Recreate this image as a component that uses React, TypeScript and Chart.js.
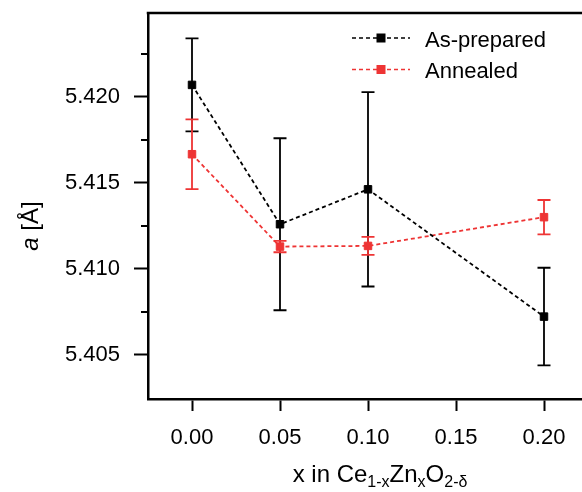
import React, { useEffect, useRef } from 'react';
import { Chart, registerables } from 'chart.js';

Chart.register(...registerables);

// ---- data ----
const xValues = [0, 0.05, 0.1, 0.2];
const asPrepared = [5.4207, 5.4126, 5.41463, 5.40723];
const asPreparedErr = [0.0027, 0.005, 0.00565, 0.00284];
const annealed = [5.41667, 5.4113, 5.41134, 5.41301];
const annealedErr = [0.00203, 0.00033, 0.00052, 0.001];
const xTicks = [0, 0.05, 0.1, 0.15, 0.2];
const yTicks = [5.405, 5.41, 5.415, 5.42];
const yMinorTicks = [5.4075, 5.4125, 5.4175, 5.4225];
const seriesNames = ['As-prepared', 'Annealed'];

const BLACK = '#000000';
const RED = 'rgb(238,52,52)';
const FONT = '"Liberation Sans", Arial, sans-serif';

const errorBarPlugin = {
  id: 'errorBars',
  beforeDatasetsDraw(chart: any) {
    const { ctx, scales } = chart;
    const xs = scales.x;
    const ys = scales.y;
    const sets = [
      { vals: asPrepared, errs: asPreparedErr, color: BLACK },
      { vals: annealed, errs: annealedErr, color: RED },
    ];
    ctx.save();
    sets.forEach((s) => {
      ctx.strokeStyle = s.color;
      ctx.lineWidth = 1.8;
      s.vals.forEach((v, i) => {
        const px = xs.getPixelForValue(xValues[i]);
        const yt = ys.getPixelForValue(v + s.errs[i]);
        const yb = ys.getPixelForValue(v - s.errs[i]);
        ctx.beginPath();
        ctx.moveTo(px, yt);
        ctx.lineTo(px, yb);
        ctx.moveTo(px - 6.5, yt);
        ctx.lineTo(px + 6.5, yt);
        ctx.moveTo(px - 6.5, yb);
        ctx.lineTo(px + 6.5, yb);
        ctx.stroke();
      });
    });
    ctx.restore();
  },
};

const decorPlugin = {
  id: 'decor',
  afterDraw(chart: any) {
    const { ctx, chartArea, scales } = chart;
    const { left, top, right, bottom } = chartArea;
    ctx.save();
    // frame top and right
    ctx.strokeStyle = BLACK;
    ctx.lineWidth = 2.5;
    ctx.beginPath();
    ctx.moveTo(left - 1.25, top);
    ctx.lineTo(right, top);
    ctx.lineTo(right, bottom);
    ctx.stroke();

    // minor y ticks
    ctx.lineWidth = 2;
    ctx.beginPath();
    yMinorTicks.forEach((v) => {
      const y = Math.round(scales.y.getPixelForValue(v));
      ctx.moveTo(left - 7, y);
      ctx.lineTo(left, y);
    });
    ctx.stroke();

    // legend
    const colors = [BLACK, RED];
    seriesNames.forEach((name, i) => {
      const ly = top + 25 + i * 31.5;
      const lx0 = left + 204;
      const lx1 = left + 262;
      ctx.strokeStyle = colors[i];
      ctx.lineWidth = 1.7;
      ctx.setLineDash([4, 3]);
      ctx.beginPath();
      ctx.moveTo(lx0, ly);
      ctx.lineTo(lx1, ly);
      ctx.stroke();
      ctx.setLineDash([]);
      ctx.fillStyle = colors[i];
      ctx.fillRect(left + 228.5, ly - 4.5, 9, 9);
      ctx.fillStyle = BLACK;
      ctx.font = `22px ${FONT}`;
      ctx.textAlign = 'left';
      ctx.textBaseline = 'alphabetic';
      ctx.fillText(name, left + 277, ly + 8.5);
    });

    // x title with subscripts
    const parts: [string, boolean][] = [
      ['x in Ce', false],
      ['1-x', true],
      ['Zn', false],
      ['x', true],
      ['O', false],
      ['2-δ', true],
    ];
    const mainFont = `24px ${FONT}`;
    const subFont = `16px ${FONT}`;
    let total = 0;
    parts.forEach(([t, sub]) => {
      ctx.font = sub ? subFont : mainFont;
      total += ctx.measureText(t).width;
    });
    let tx = 380 - total / 2;
    const baseY = bottom + 83;
    ctx.fillStyle = BLACK;
    ctx.textAlign = 'left';
    ctx.textBaseline = 'alphabetic';
    parts.forEach(([t, sub]) => {
      ctx.font = sub ? subFont : mainFont;
      ctx.fillText(t, tx, sub ? baseY + 5 : baseY);
      tx += ctx.measureText(t).width;
    });

    // y title: italic a [Å]
    ctx.save();
    ctx.translate(38, 226);
    ctx.rotate(-Math.PI / 2);
    const fontI = `italic 24px ${FONT}`;
    const fontN = `24px ${FONT}`;
    ctx.font = fontI;
    const wa = ctx.measureText('a').width;
    ctx.font = fontN;
    const wr = ctx.measureText(' [Å]').width;
    let sx = -(wa + wr) / 2;
    ctx.font = fontI;
    ctx.fillText('a', sx, 0);
    sx += wa;
    ctx.font = fontN;
    ctx.fillText(' [Å]', sx, 0);
    ctx.restore();

    ctx.restore();
  },
};

export default function App() {
  const ref = useRef<HTMLCanvasElement | null>(null);

  useEffect(() => {
    if (!ref.current) return;
    const chart = new Chart(ref.current, {
      type: 'line',
      data: {
        datasets: [
          {
            label: seriesNames[0],
            data: xValues.map((x, i) => ({ x, y: asPrepared[i] })),
            borderColor: BLACK,
            backgroundColor: BLACK,
            borderWidth: 1.8,
            borderDash: [4, 3],
            pointStyle: 'rect',
            pointRadius: 5.3,
            pointBorderWidth: 1,
            pointBackgroundColor: BLACK,
            pointBorderColor: BLACK,
            tension: 0,
          },
          {
            label: seriesNames[1],
            data: xValues.map((x, i) => ({ x, y: annealed[i] })),
            borderColor: RED,
            backgroundColor: RED,
            borderWidth: 1.8,
            borderDash: [4, 3],
            pointStyle: 'rect',
            pointRadius: 5.3,
            pointBorderWidth: 1,
            pointBackgroundColor: RED,
            pointBorderColor: RED,
            tension: 0,
          },
        ],
      },
      options: {
        animation: false,
        responsive: false,
        devicePixelRatio: 1,
        layout: { padding: { top: 13, right: 12, left: 0, bottom: 0 } },
        plugins: {
          legend: { display: false },
          tooltip: { enabled: false },
          title: { display: false },
        },
        scales: {
          x: {
            type: 'linear',
            min: -0.025,
            max: 0.225,
            afterFit: (scale: any) => {
              scale.height = 93;
              scale.paddingLeft = 0;
              scale.paddingRight = 0;
            },
            afterBuildTicks: (scale: any) => {
              scale.ticks = xTicks.map((v) => ({ value: v }));
            },
            ticks: {
              callback: (v: any) => Number(v).toFixed(2),
              font: { family: FONT, size: 22 },
              color: BLACK,
              padding: 14,
              maxRotation: 0,
              autoSkip: false,
            },
            grid: {
              display: true,
              drawOnChartArea: false,
              drawTicks: true,
              tickLength: 12,
              tickWidth: 2,
              tickColor: BLACK,
            },
            border: { display: true, color: BLACK, width: 2.5 },
          },
          y: {
            type: 'linear',
            min: 5.40244,
            max: 5.42488,
            afterFit: (scale: any) => {
              scale.width = 148;
              scale.paddingTop = 0;
              scale.paddingBottom = 0;
            },
            afterBuildTicks: (scale: any) => {
              scale.ticks = yTicks.map((v) => ({ value: v }));
            },
            ticks: {
              callback: (v: any) => Number(v).toFixed(3),
              font: { family: FONT, size: 22 },
              color: BLACK,
              padding: 14,
              autoSkip: false,
            },
            grid: {
              display: true,
              drawOnChartArea: false,
              drawTicks: true,
              tickLength: 14,
              tickWidth: 2,
              tickColor: BLACK,
            },
            border: { display: true, color: BLACK, width: 2.5 },
          },
        },
      },
      plugins: [errorBarPlugin, decorPlugin],
    });
    return () => chart.destroy();
  }, []);

  return (
    <div
      style={{
        position: 'fixed',
        left: 0,
        top: 0,
        width: 582,
        height: 492,
        overflow: 'hidden',
        background: '#fff',
      }}
    >
      <canvas ref={ref} width={600} height={492} style={{ width: 600, height: 492, display: 'block' }} />
    </div>
  );
}
